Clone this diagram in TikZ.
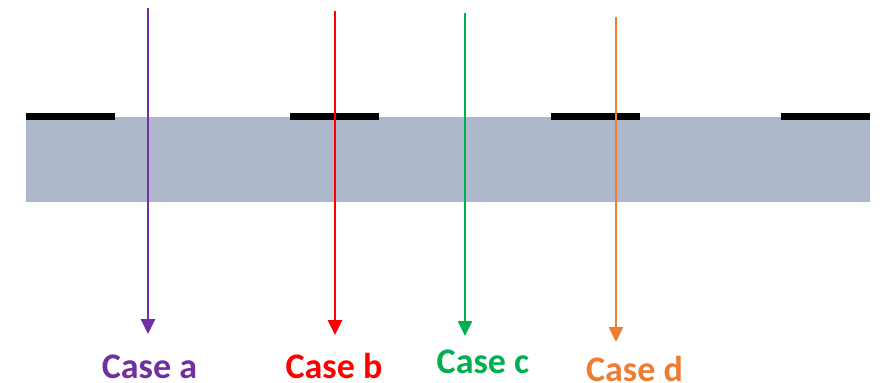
\documentclass[tikz,border=0pt]{standalone}
\usepackage{fontspec}
\setmainfont{Carlito}
\usetikzlibrary{arrows.meta}
\definecolor{cpurple}{HTML}{7030A0}
\definecolor{cred}{HTML}{FF0000}
\definecolor{cgreen}{HTML}{00B050}
\definecolor{corange}{HTML}{ED7D31}
\definecolor{slab}{HTML}{ADB9CA}
\begin{document}
\begin{tikzpicture}[x=1pt,y=-1pt,
  ray/.style={line width=2.6pt,-{Triangle[width=14pt,length=15pt]}},
  lbl/.style={anchor=base,font=\fontsize{36}{40}\selectfont\bfseries,inner sep=0pt},
  bar/.style={fill=black,draw=none}]
\useasboundingbox (0,0) rectangle (884,383);
\fill[slab] (26,117) rectangle (870,202);
\fill[bar] (26,113) rectangle (115,119.5);
\fill[bar] (290,113) rectangle (379,119.5);
\fill[bar] (551,113) rectangle (640,119.5);
\fill[bar] (781,113) rectangle (870,119.5);
\coordinate (sa) at (148,8);   \coordinate (ea) at (148,334);
\coordinate (sb) at (335,11);  \coordinate (eb) at (335,335);
\coordinate (sc) at (465,13);  \coordinate (ec) at (465,336);
\coordinate (sd) at (616,17);  \coordinate (ed) at (616,342);
\draw[ray,cpurple] (sa) -- (ea);
\draw[ray,cred] (sb) -- (eb);
\draw[ray,cgreen] (sc) -- (ec);
\draw[ray,corange] (sd) -- (ed);
\node[lbl,text=cpurple] (la) at (149.5,378) {Case a};
\node[lbl,text=cred] (lb) at (334,378) {Case b};
\node[lbl,text=cgreen] (lc) at (483,373) {Case c};
\node[lbl,text=corange] (ld) at (634.5,381) {Case d};
\end{tikzpicture}
\end{document}
